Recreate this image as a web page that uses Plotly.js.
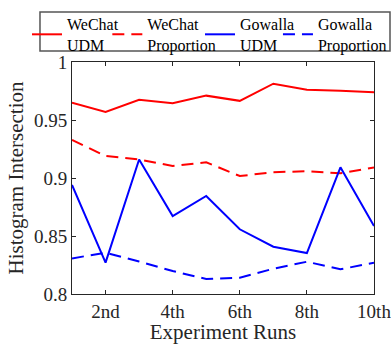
<!DOCTYPE html>
<html>
<head>
<meta charset="utf-8">
<script src="https://cdn.plot.ly/plotly-3.0.1.min.js"></script>
<style>html,body{margin:0;padding:0;background:#fff;}#chart{width:391px;height:344px;}</style>
</head>
<body>
<div id="chart"></div>
<script>
const runs = [1, 2, 3, 4, 5, 6, 7, 8, 9, 10];
const wechatUDM = [0.965, 0.957, 0.9675, 0.9645, 0.971, 0.9665, 0.9813, 0.976, 0.9753, 0.974];
const wechatProp = [0.9328, 0.919, 0.916, 0.9103, 0.9135, 0.9017, 0.905, 0.9058, 0.904, 0.909];
const gowallaUDM = [0.894, 0.827, 0.916, 0.8672, 0.8845, 0.8558, 0.8408, 0.8353, 0.9092, 0.8586];
const gowallaProp = [0.8307, 0.8356, 0.828, 0.8198, 0.813, 0.814, 0.8218, 0.8278, 0.8213, 0.827];
const seriesNames = ['WeChat<br>UDM', 'WeChat<br>Proportion', 'Gowalla<br>UDM', 'Gowalla<br>Proportion'];
const xTickVals = [2, 4, 6, 8, 10];
const xTickText = ['2nd', '4th', '6th', '8th', '10th'];
const yTickVals = [0.8, 0.85, 0.9, 0.95, 1];
const yTickText = ['0.8', '0.85', '0.9', '0.95', '1'];

const FONT = 'Liberation Serif, Times New Roman, serif';
const dashPat = '12px,7px';
const traces = [
  {x: runs, y: wechatUDM, name: seriesNames[0], legend: 'legend', mode: 'lines', line: {color: '#ff0000', width: 2}},
  {x: runs, y: wechatProp, name: seriesNames[1], legend: 'legend2', mode: 'lines', line: {color: '#ff0000', width: 2, dash: dashPat}},
  {x: runs, y: gowallaUDM, name: seriesNames[2], legend: 'legend3', mode: 'lines', line: {color: '#0000ff', width: 2}},
  {x: runs, y: gowallaProp, name: seriesNames[3], legend: 'legend4', mode: 'lines', line: {color: '#0000ff', width: 2, dash: dashPat}}
];

const axisCommon = {
  showgrid: false, zeroline: false, showline: true, mirror: 'ticks',
  linecolor: '#262626', linewidth: 1, ticks: 'inside', ticklen: 4, tickcolor: '#262626',
  ticklabeloverflow: 'allow',
  tickfont: {family: FONT, size: 19, color: '#262626'}
};

function leg(xp) {
  return {
    orientation: 'v', x: xp, xanchor: 'left', y: 1.237, yanchor: 'top',
    borderwidth: 0, bgcolor: 'rgba(0,0,0,0)', valign: 'middle',
    font: {family: FONT, size: 16, color: '#000000'},
    itemwidth: 30
  };
}

const layout = {
  width: 391, height: 344,
  margin: {l: 72, r: 17, t: 62, b: 50, autoexpand: false},
  paper_bgcolor: '#ffffff', plot_bgcolor: '#ffffff',
  font: {family: FONT, color: '#262626'},
  showlegend: true,
  legend: leg(-0.149),
  legend2: leg(0.117),
  legend3: leg(0.4238),
  legend4: leg(0.682),
  shapes: [{
    type: 'rect', xref: 'paper', yref: 'paper',
    x0: -0.106, x1: 1.053, y0: 1.0474, y1: 1.2155,
    line: {color: '#555555', width: 1.5}, fillcolor: 'rgba(0,0,0,0)', layer: 'above'
  }],
  xaxis: Object.assign({}, axisCommon, {
    range: [1, 10], tickvals: xTickVals, ticktext: xTickText,
    title: {text: 'Experiment Runs', font: {family: FONT, size: 21, color: '#262626'}, standoff: 4}
  }),
  yaxis: Object.assign({}, axisCommon, {
    range: [0.8, 1], tickvals: yTickVals, ticktext: yTickText,
    title: {text: 'Histogram Intersection', font: {family: FONT, size: 21, color: '#262626'}, standoff: 4}
  })
};

Plotly.newPlot('chart', traces, layout, {displayModeBar: false, staticPlot: true});
</script>
</body>
</html>
